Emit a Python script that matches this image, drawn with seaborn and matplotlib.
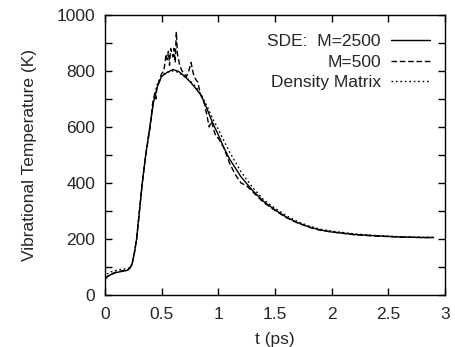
import matplotlib
matplotlib.use("Agg")
import matplotlib.pyplot as plt
import seaborn as sns
from matplotlib.ticker import MultipleLocator

# ---- data ----
t_sde2500 = [0, 0.02, 0.05, 0.1, 0.15, 0.2, 0.22, 0.24, 0.26, 0.28, 0.3, 0.33, 0.36,
             0.4, 0.43, 0.46, 0.5, 0.55, 0.6, 0.65, 0.7, 0.75, 0.8, 0.85, 0.9, 0.95,
             1.0, 1.05, 1.1, 1.2, 1.3, 1.4, 1.5, 1.6, 1.7, 1.8, 1.9, 2.0, 2.2, 2.4,
             2.6, 2.8, 2.9]
T_sde2500 = [55, 65, 72, 80, 84, 88, 95, 110, 150, 200, 280, 400, 500,
             610, 690, 740, 780, 795, 805, 798, 782, 762, 738, 712, 665, 615,
             572, 525, 485, 422, 374, 334, 304, 278, 258, 243, 232, 225, 216, 211,
             207, 205, 205]

t_sde500 = [0, 0.05, 0.1, 0.15, 0.2, 0.22, 0.24, 0.26, 0.28, 0.3, 0.33, 0.36,
            0.4, 0.42, 0.44, 0.45, 0.46, 0.48, 0.5, 0.52, 0.54, 0.55, 0.56, 0.57,
            0.58, 0.6, 0.61, 0.62, 0.63, 0.64, 0.66, 0.68, 0.7, 0.72, 0.74, 0.76,
            0.78, 0.8, 0.82, 0.83, 0.84, 0.86, 0.88, 0.9, 0.92, 0.94, 0.96, 0.98,
            1.0, 1.05, 1.1, 1.15, 1.2, 1.25, 1.3, 1.4, 1.5, 1.6, 1.7, 1.8, 1.9,
            2.0, 2.2, 2.4, 2.6, 2.8, 2.9]
T_sde500 = [58, 74, 82, 86, 90, 96, 112, 150, 200, 280, 400, 500,
            600, 680, 720, 700, 745, 765, 790, 800, 860, 840, 870, 820,
            880, 850, 880, 830, 940, 860, 820, 800, 790, 780, 800, 830,
            790, 770, 760, 740, 720, 700, 680, 640, 600, 620, 590, 565,
            560, 525, 470, 430, 400, 390, 370, 330, 302, 276, 257, 242, 231,
            225, 215, 210, 207, 205, 205]

t_dm = [0, 0.02, 0.05, 0.1, 0.15, 0.2, 0.22, 0.24, 0.26, 0.28, 0.3, 0.33, 0.36,
        0.4, 0.43, 0.46, 0.5, 0.55, 0.6, 0.65, 0.7, 0.75, 0.8, 0.85, 0.9, 0.95,
        1.0, 1.05, 1.1, 1.2, 1.3, 1.4, 1.5, 1.6, 1.7, 1.8, 1.9, 2.0, 2.2, 2.4,
        2.6, 2.8, 2.9]
T_dm = [60, 75, 82, 88, 92, 94, 98, 112, 150, 200, 280, 400, 500,
        610, 700, 750, 785, 795, 800, 795, 780, 765, 745, 715, 675, 630,
        592, 550, 510, 440, 385, 340, 310, 283, 262, 246, 235, 228, 218, 212,
        208, 206, 206]

series_labels = ["SDE:  M=2500", "M=500", "Density Matrix"]
x_ticks = [0, 0.5, 1, 1.5, 2, 2.5, 3]
x_ticklabels = ["0", "0.5", "1", "1.5", "2", "2.5", "3"]

# ---- plot ----
sns.set_style("ticks")
plt.rcParams["font.family"] = ["Liberation Sans", "DejaVu Sans"]
fs = 12.5

fig = plt.figure(figsize=(4.56, 3.47), dpi=100)
ax = fig.add_axes([0.230, 0.150, 0.746, 0.807])

sns.lineplot(x=t_sde2500, y=T_sde2500, ax=ax, color="black", lw=1.0,
             label=series_labels[0])
sns.lineplot(x=t_sde500, y=T_sde500, ax=ax, color="black", lw=1.0,
             label=series_labels[1]).lines[-1].set_dashes([4, 2])
sns.lineplot(x=t_dm, y=T_dm, ax=ax, color="black", lw=1.0,
             label=series_labels[2]).lines[-1].set_dashes([1.2, 2])

ax.set_xlim(0, 3)
ax.set_ylim(0, 1000)
ax.set_xticks(x_ticks, x_ticklabels)
ax.yaxis.set_major_locator(MultipleLocator(200))
ax.yaxis.set_minor_locator(MultipleLocator(100))
ax.tick_params(which="both", direction="in", top=True, right=True,
               labelsize=fs, width=1.0, color="black", length=5, pad=7)
ax.tick_params(axis="x", pad=9)
for s in ax.spines.values():
    s.set_linewidth(1.0)
    s.set_color("black")

ax.set_xlabel("t (ps)", fontsize=fs, labelpad=7)
ax.set_ylabel("Vibrational Temperature (K)", fontsize=fs, labelpad=14)

ax.legend(loc="upper right", frameon=False, markerfirst=False, fontsize=fs,
          handlelength=2.2, handletextpad=0.6, labelspacing=0.3,
          borderaxespad=0.3, bbox_to_anchor=(0.99, 0.975))

fig.savefig("out.png", dpi=100)
